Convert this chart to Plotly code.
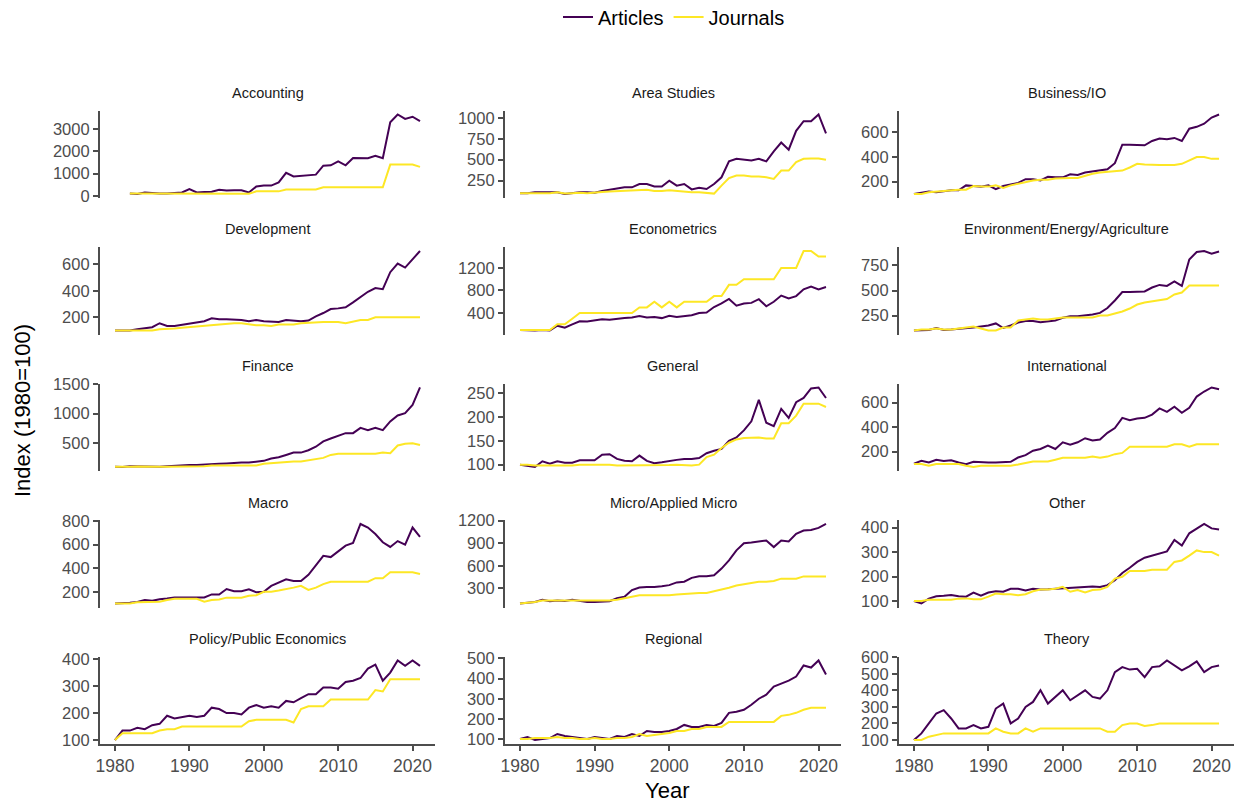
import plotly.graph_objects as go

years = list(range(1980, 2022))

categories = ["Accounting", "Area Studies", "Business/IO",
              "Development", "Econometrics", "Environment/Energy/Agriculture",
              "Finance", "General", "International",
              "Macro", "Micro/Applied Micro", "Other",
              "Policy/Public Economics", "Regional", "Theory"]

accounting_articles = [None, None, 100, 80, 150, 110, 100, 100, 120, 150,
                       300, 150, 170, 180, 270, 240, 250, 250, 150, 420,
                       460, 460, 600, 1030, 870, 900, 920, 950, 1350, 1370,
                       1550, 1370, 1700, 1690, 1690, 1800, 1690, 3300, 3650, 3450,
                       3550, 3350]
accounting_journals = [None, None, 100, 100, 100, 100, 100, 100, 100, 100,
                       100, 100, 100, 100, 100, 100, 100, 100, 90, 200,
                       200, 200, 200, 280, 280, 280, 280, 280, 380, 380,
                       380, 380, 380, 380, 380, 380, 380, 1400, 1400, 1400,
                       1400, 1300]

area_articles = [100, 100, 110, 110, 105, 110, 90, 100, 110, 110,
                 105, 125, 140, 150, 170, 170, 210, 210, 180, 180,
                 250, 190, 210, 145, 165, 150, 210, 290, 480, 510,
                 500, 490, 510, 480, 600, 705, 620, 845, 960, 960,
                 1040, 815]
area_journals = [100, 100, 105, 105, 100, 110, 95, 100, 105, 100,
                 110, 115, 120, 125, 130, 135, 140, 140, 125, 125,
                 135, 125, 120, 110, 110, 105, 95, 190, 280, 310,
                 310, 300, 300, 290, 270, 370, 370, 470, 510, 515,
                 515, 500]

business_articles = [100, 110, 120, 115, 125, 130, 130, 170, 165, 160,
                     170, 140, 165, 175, 190, 220, 220, 210, 240, 235,
                     235, 260, 255, 275, 285, 295, 300, 350, 500, 500,
                     500, 495, 530, 550, 545, 555, 530, 630, 645, 670,
                     720, 745]
business_journals = [100, 100, 115, 120, 125, 135, 135, 135, 165, 160,
                     160, 170, 150, 170, 185, 195, 210, 215, 215, 225,
                     230, 230, 230, 250, 265, 275, 280, 290, 290, 315,
                     345, 340, 335, 335, 335, 335, 345, 370, 400, 400,
                     385, 385]

development_articles = [100, 100, 100, 110, 120, 125, 155, 135, 135, 145,
                        155, 165, 170, 192, 185, 185, 185, 180, 170, 180,
                        170, 170, 165, 180, 175, 170, 175, 207, 232, 262,
                        267, 275, 312, 350, 392, 420, 412, 540, 605, 575,
                        640, 700]
development_journals = [100, 100, 100, 100, 100, 100, 110, 110, 115, 120,
                        125, 135, 140, 145, 145, 155, 155, 155, 145, 140,
                        140, 135, 145, 145, 145, 155, 160, 165, 165, 165,
                        165, 155, 170, 180, 180, 200, 200, 200, 200, 200,
                        200, 200]

econometrics_articles = [100, 90, 90, 100, 90, 176, 141, 200, 255, 250,
                         270, 290, 280, 300, 310, 320, 347, 320, 330, 310,
                         350, 330, 350, 360, 400, 410, 506, 570, 650, 530,
                         570, 580, 645, 520, 600, 710, 660, 700, 820, 870,
                         820, 860]
econometrics_journals = [100, 100, 100, 100, 100, 200, 200, 300, 400, 400,
                         400, 400, 400, 400, 400, 400, 500, 500, 600, 500,
                         600, 500, 600, 600, 600, 600, 700, 700, 900, 900,
                         1000, 1000, 1000, 1000, 1000, 1200, 1200, 1200, 1500, 1500,
                         1400, 1400]

environment_articles = [100, 105, 105, 125, 105, 110, 115, 120, 130, 140,
                        150, 171, 125, 150, 180, 194, 194, 184, 194, 200,
                        227, 243, 243, 250, 260, 276, 325, 400, 485, 485,
                        490, 490, 530, 556, 546, 590, 546, 810, 885, 895,
                        868, 890]
environment_journals = [100, 110, 110, 120, 110, 110, 120, 130, 140, 120,
                        100, 100, 130, 130, 200, 210, 220, 210, 210, 220,
                        230, 230, 230, 230, 230, 250, 250, 270, 290, 320,
                        360, 380, 390, 400, 415, 460, 480, 550, 550, 550,
                        550, 550]

finance_articles = [100, 95, 110, 105, 110, 100, 100, 110, 120, 130,
                    130, 130, 140, 150, 150, 155, 165, 170, 170, 180,
                    200, 240, 260, 300, 340, 340, 380, 440, 530, 580,
                    630, 670, 670, 760, 720, 760, 720, 870, 970, 1010,
                    1150, 1445]
finance_journals = [100, 95, 100, 105, 100, 95, 100, 100, 100, 105,
                    105, 105, 110, 120, 120, 120, 110, 120, 120, 120,
                    150, 160, 180, 190, 190, 190, 210, 230, 250, 300,
                    320, 320, 320, 320, 310, 320, 340, 330, 460, 490,
                    500, 470]

general_articles = [100, 97, 95, 107, 102, 107, 104, 104, 109, 109,
                    109, 121, 122, 112, 108, 107, 119, 108, 103, 105,
                    108, 110, 112, 112, 114, 124, 129, 133, 150, 157,
                    172, 191, 236, 188, 181, 217, 198, 231, 240, 260,
                    262, 240]
general_journals = [100, 100, 98, 98, 98, 98, 98, 98, 100, 100,
                    100, 100, 100, 98, 98, 98, 98, 98, 98, 98,
                    99, 100, 99, 98, 100, 116, 121, 135, 146, 153,
                    156, 157, 157, 155, 155, 187, 187, 203, 228, 228,
                    228, 221]

international_articles = [103, 126, 112, 134, 125, 130, 112, 98, 117, 112,
                          112, 112, 113, 117, 153, 172, 208, 222, 250, 222,
                          277, 258, 277, 310, 291, 300, 354, 393, 476, 457,
                          470, 476, 503, 553, 525, 567, 517, 559, 650, 691,
                          724, 710]
international_journals = [100, 100, 85, 100, 100, 100, 100, 85, 75, 85,
                          85, 85, 85, 85, 95, 110, 120, 120, 120, 135,
                          150, 150, 150, 150, 160, 150, 160, 180, 190, 240,
                          240, 240, 240, 240, 240, 260, 260, 240, 260, 260,
                          260, 260]

macro_articles = [100, 100, 106, 114, 129, 123, 137, 143, 151, 151,
                  151, 157, 151, 177, 177, 223, 205, 205, 220, 195,
                  200, 249, 277, 306, 291, 291, 343, 420, 505, 494,
                  543, 591, 614, 775, 745, 690, 620, 580, 630, 600,
                  745, 665]
macro_journals = [100, 100, 100, 110, 110, 115, 115, 130, 140, 140,
                  140, 140, 115, 130, 135, 150, 150, 150, 165, 170,
                  200, 200, 210, 220, 235, 250, 215, 235, 265, 285,
                  285, 285, 285, 285, 285, 315, 315, 365, 365, 365,
                  365, 350]

micro_articles = [100, 110, 120, 150, 130, 140, 135, 150, 130, 120,
                  120, 130, 130, 170, 190, 278, 313, 320, 320, 330,
                  344, 380, 390, 440, 462, 462, 475, 563, 673, 805,
                  900, 910, 923, 936, 848, 936, 923, 1024, 1068, 1076,
                  1103, 1155]
micro_journals = [100, 110, 120, 140, 135, 140, 140, 140, 140, 140,
                  140, 140, 140, 150, 170, 200, 210, 210, 210, 210,
                  210, 220, 230, 240, 240, 240, 260, 290, 310, 340,
                  360, 380, 390, 390, 400, 430, 430, 430, 460, 460,
                  460, 460]

other_articles = [100, 90, 110, 120, 122, 125, 120, 118, 135, 122,
                  135, 140, 138, 150, 150, 143, 150, 147, 148, 150,
                  152, 152, 155, 155, 160, 158, 165, 185, 215, 236,
                  260, 277, 286, 293, 303, 350, 327, 377, 395, 415,
                  397, 392]
other_journals = [100, 100, 105, 105, 105, 105, 110, 111, 107, 107,
                  118, 131, 128, 128, 124, 128, 140, 147, 147, 150,
                  158, 138, 145, 135, 145, 147, 158, 192, 199, 223,
                  223, 223, 228, 228, 228, 260, 266, 286, 307, 300,
                  300, 286]

policy_articles = [100, 135, 135, 145, 140, 155, 160, 190, 180, 185,
                   190, 185, 190, 220, 215, 200, 200, 195, 220, 230,
                   220, 225, 220, 245, 240, 255, 270, 270, 295, 295,
                   290, 315, 320, 330, 365, 380, 320, 350, 395, 375,
                   395, 375]
policy_journals = [100, 125, 125, 125, 125, 125, 135, 140, 140, 150,
                   150, 150, 150, 150, 150, 150, 150, 150, 170, 175,
                   175, 175, 175, 175, 165, 215, 225, 225, 225, 250,
                   250, 250, 250, 250, 250, 285, 280, 325, 325, 325,
                   325, 325]

regional_articles = [100, 110, 95, 100, 105, 125, 115, 110, 105, 100,
                     110, 105, 100, 115, 110, 125, 115, 140, 135, 135,
                     140, 150, 170, 160, 160, 170, 165, 180, 230, 235,
                     245, 270, 300, 320, 360, 375, 390, 410, 465, 455,
                     490, 420]
regional_journals = [100, 100, 105, 105, 105, 110, 105, 105, 100, 100,
                     105, 100, 100, 105, 105, 110, 125, 115, 120, 125,
                     130, 140, 140, 150, 150, 160, 160, 160, 185, 185,
                     185, 185, 185, 185, 185, 215, 220, 230, 245, 255,
                     255, 255]

theory_articles = [100, 140, 200, 260, 280, 230, 170, 170, 190, 170,
                   180, 290, 320, 200, 230, 300, 330, 400, 320, 360,
                   400, 340, 370, 400, 360, 350, 400, 510, 540, 525,
                   530, 480, 540, 545, 580, 550, 520, 545, 575, 510,
                   540, 550]
theory_journals = [100, 100, 120, 130, 140, 140, 140, 140, 140, 140,
                   140, 170, 150, 140, 140, 170, 150, 170, 170, 170,
                   170, 170, 170, 170, 170, 170, 150, 150, 190, 200,
                   200, 185, 190, 200, 200, 200, 200, 200, 200, 200,
                   200, 200]

accounting_ticks = [0, 1000, 2000, 3000]
area_ticks = [250, 500, 750, 1000]
business_ticks = [200, 400, 600]
development_ticks = [200, 400, 600]
econometrics_ticks = [400, 800, 1200]
environment_ticks = [250, 500, 750]
finance_ticks = [500, 1000, 1500]
general_ticks = [100, 150, 200, 250]
international_ticks = [200, 400, 600]
macro_ticks = [200, 400, 600, 800]
micro_ticks = [300, 600, 900, 1200]
other_ticks = [100, 200, 300, 400]
policy_ticks = [100, 200, 300, 400]
regional_ticks = [100, 200, 300, 400, 500]
theory_ticks = [100, 200, 300, 400, 500, 600]
year_ticks = [1980, 1990, 2000, 2010, 2020]

series = [
    (accounting_articles, accounting_journals, accounting_ticks),
    (area_articles, area_journals, area_ticks),
    (business_articles, business_journals, business_ticks),
    (development_articles, development_journals, development_ticks),
    (econometrics_articles, econometrics_journals, econometrics_ticks),
    (environment_articles, environment_journals, environment_ticks),
    (finance_articles, finance_journals, finance_ticks),
    (general_articles, general_journals, general_ticks),
    (international_articles, international_journals, international_ticks),
    (macro_articles, macro_journals, macro_ticks),
    (micro_articles, micro_journals, micro_ticks),
    (other_articles, other_journals, other_ticks),
    (policy_articles, policy_journals, policy_ticks),
    (regional_articles, regional_journals, regional_ticks),
    (theory_articles, theory_journals, theory_ticks),
]

W, H = 1244, 804
FONT = "Liberation Sans, Arial, sans-serif"
ART_COL = "#440154"
JOU_COL = "#FDE725"
AX_COL = "#4D4D4D"
TICK_SIZE = 16.5

col_px = [(99.75, 435.25), (504.7, 841.3), (898.7, 1234.3)]
row_px = [(110.5, 198.0), (247.0, 334.5), (383.5, 471.0), (520.0, 607.5), (656.5, 744.0)]


def px(xw):
    return xw / W


def py(yw):
    return 1 - yw / H


xmin, xmax = min(years), max(years)
xpad = 0.05 * (xmax - xmin)

fig = go.Figure()
layout_axes = {}
annotations = []

for i, (cat, (art, jou, ticks)) in enumerate(zip(categories, series)):
    r, c = divmod(i, 3)
    n = i + 1
    xa = "x" if n == 1 else f"x{n}"
    ya = "y" if n == 1 else f"y{n}"
    fig.add_trace(go.Scatter(x=years, y=art, mode="lines", name="Articles",
                             legendgroup="Articles", showlegend=(i == 0),
                             line=dict(color=ART_COL, width=2),
                             xaxis=xa, yaxis=ya, connectgaps=False))
    fig.add_trace(go.Scatter(x=years, y=jou, mode="lines", name="Journals",
                             legendgroup="Journals", showlegend=(i == 0),
                             line=dict(color=JOU_COL, width=2),
                             xaxis=xa, yaxis=ya, connectgaps=False))
    vals = [v for v in art + jou if v is not None]
    lo, hi = min(vals), max(vals)
    pad = 0.05 * (hi - lo)
    x0, x1 = col_px[c]
    y0, y1 = row_px[r]
    bottom = (r == 4)
    xkey = "xaxis" if n == 1 else f"xaxis{n}"
    ykey = "yaxis" if n == 1 else f"yaxis{n}"
    layout_axes[xkey] = dict(
        domain=[px(x0), px(x1)], anchor=ya, range=[xmin - xpad, xmax + xpad],
        showgrid=False, zeroline=False,
        showline=bottom, linecolor=AX_COL, linewidth=1.6,
        ticks="outside" if bottom else "", ticklen=5, tickwidth=1.6, tickcolor=AX_COL,
        tickvals=year_ticks, showticklabels=bottom,
        tickfont=dict(family=FONT, size=TICK_SIZE + 1, color=AX_COL),
    )
    layout_axes[ykey] = dict(
        domain=[py(y1), py(y0)], anchor=xa, range=[lo - pad, hi + pad],
        showgrid=False, zeroline=False,
        showline=True, linecolor=AX_COL, linewidth=1.6,
        ticks="outside", ticklen=5, tickwidth=1.6, tickcolor=AX_COL,
        tickvals=ticks, tickfont=dict(family=FONT, size=TICK_SIZE, color=AX_COL),
    )
    annotations.append(dict(
        text=cat, x=px((x0 + x1) / 2), y=py(y0 - 17.5),
        xref="paper", yref="paper", xanchor="center", yanchor="middle",
        showarrow=False, font=dict(family=FONT, size=14.5, color="#1A1A1A")))

annotations.append(dict(text="Index (1980=100)", x=px(22), y=py(411),
                        xref="paper", yref="paper", xanchor="center", yanchor="middle",
                        textangle=-90, showarrow=False,
                        font=dict(family=FONT, size=22, color="#000000")))
annotations.append(dict(text="Year", x=px(667), y=py(790),
                        xref="paper", yref="paper", xanchor="center", yanchor="middle",
                        showarrow=False, font=dict(family=FONT, size=22, color="#000000")))

fig.update_layout(
    width=W, height=H,
    margin=dict(l=0, r=0, t=0, b=0, autoexpand=False),
    paper_bgcolor="white", plot_bgcolor="white",
    font=dict(family=FONT),
    legend=dict(orientation="h", x=px(674), xanchor="center", y=py(17),
                yanchor="middle", font=dict(family=FONT, size=20, color="#000000"),
                bgcolor="rgba(0,0,0,0)"),
    annotations=annotations,
    **layout_axes,
)

fig.write_html(
    "out.html",
    config={"displayModeBar": False},
    post_script="document.body.style.margin='0';"
                "document.documentElement.style.overflow='hidden';",
)
